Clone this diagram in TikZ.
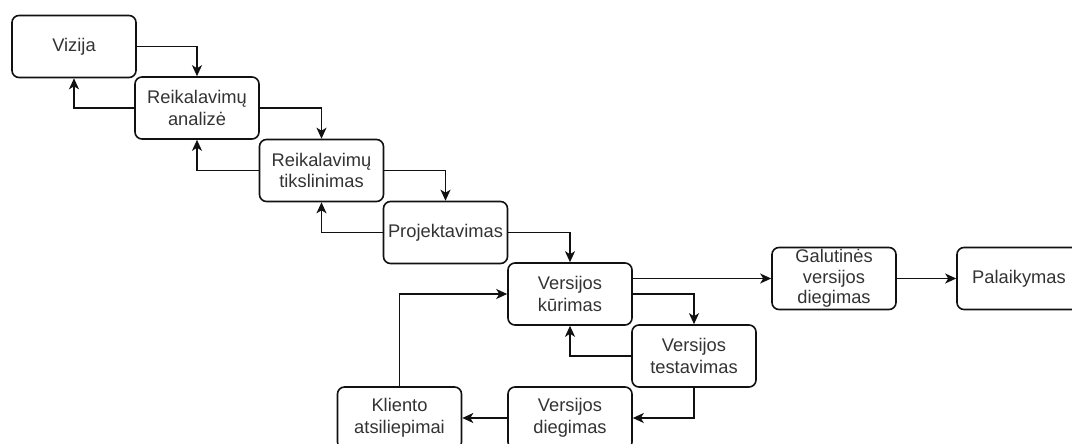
\documentclass[tikz,border=0pt]{standalone}
\usepackage{fontspec}
\setmainfont{Liberation Sans}
\usetikzlibrary{arrows.meta,calc}
\definecolor{txt}{HTML}{333333}
\definecolor{ln}{HTML}{111111}
\begin{document}
\begin{tikzpicture}[x=1pt,y=-1pt,
  stage/.style={draw=ln,line width=1.6pt,rounded corners=7pt,
    minimum width=124pt,minimum height=62pt,inner sep=0pt,
    align=center,text=txt,
    font=\fontsize{18.3}{21.5}\selectfont},
  flow/.style={draw=ln,line width=1.5pt,
    -{Stealth[length=11pt,width=10pt,inset=3pt]}}]
\useasboundingbox (0,0) rectangle (1072,444);
\fill[white] (0,0) rectangle (1072,444);
% waterfall of stages
\node[stage] (viz) at (74,46.5)   {Vizija};
\node[stage] (ana) at (197,108)   {Reikalavimų\\analizė};
\node[stage] (tik) at (321.5,170.5) {Reikalavimų\\tikslinimas};
\node[stage] (pro) at (445.5,232.5) {Projektavimas};
\node[stage] (kur) at (570,294)   {Versijos\\kūrimas};
\node[stage] (tes) at (694,356)   {Versijos\\testavimas};
\node[stage] (die) at (570,418)   {Versijos\\diegimas};
\node[stage] (kli) at (399.5,418) {Kliento\\atsiliepimai};
\node[stage,font=\fontsize{18.3}{20.5}\selectfont] (gal) at (834,278.5) {Galutinės\\versijos\\diegimas};
\node[stage] (pal) at (1019,278.5) {Palaikymas};
% forward steps
\draw[flow] (viz.east) -| (ana.north);
\draw[flow] (ana.east) -| (tik.north);
\draw[flow] (tik.east) -| (pro.north);
\draw[flow] (pro.east) -| (kur.north);
\draw[flow] (kur.east) -| (tes.north);
\draw[flow] (tes.south) |- (die.east);
\draw[flow] (die.west) -- (kli.east);
\draw[flow] (kli.north) |- (kur.west);
% feedback steps
\draw[flow] (ana.west) -| (viz.south);
\draw[flow] (tik.west) -| (ana.south);
\draw[flow] (pro.west) -| (tik.south);
\draw[flow] (tes.west) -| (kur.south);
% release
\draw[flow] (kur.east |- gal.west) -- (gal.west);
\draw[flow] (gal.east) -- (pal.west);
\end{tikzpicture}
\end{document}
